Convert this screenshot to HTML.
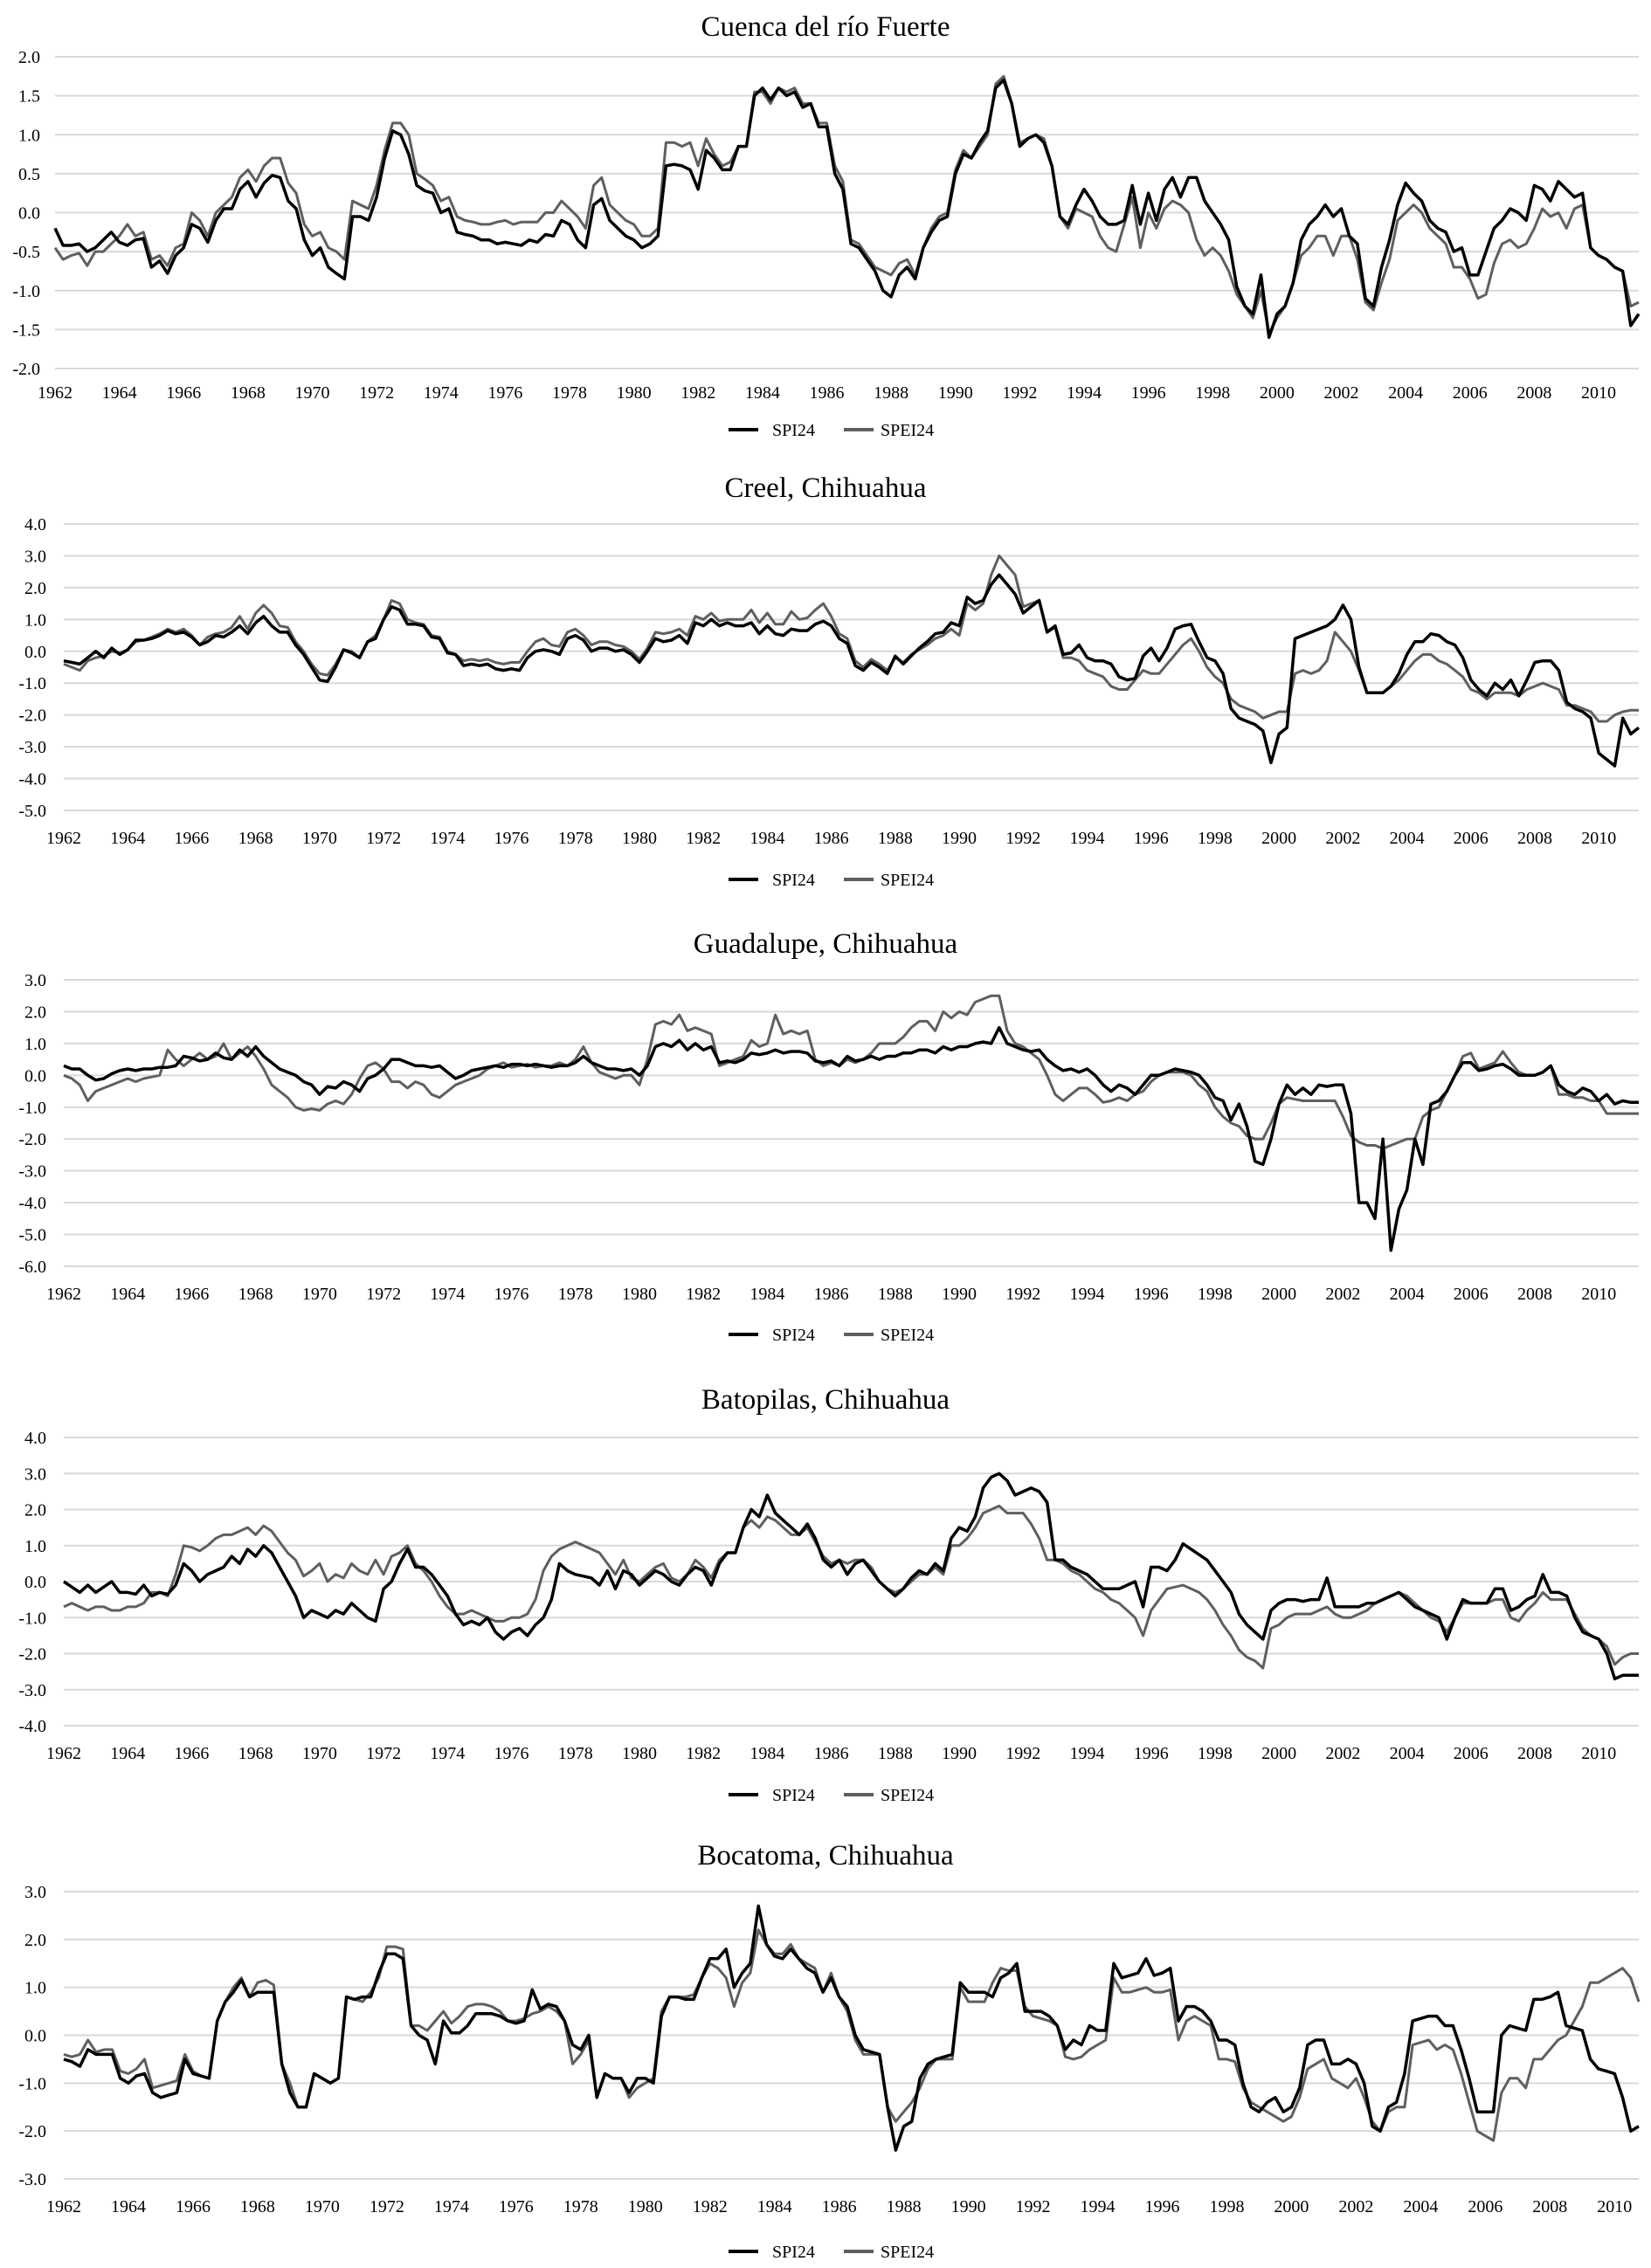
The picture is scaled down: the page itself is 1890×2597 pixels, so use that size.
<!DOCTYPE html>
<html><head><meta charset="utf-8"><title>SPI24 vs SPEI24</title>
<style>
html,body{margin:0;padding:0;background:#fff;}
svg{display:block;font-family:"Liberation Serif",serif;}
</style></head>
<body>
<svg id="chart" width="1890" height="2597" viewBox="0 0 1890 2597" xmlns="http://www.w3.org/2000/svg"></svg>
<script>
// ---- Data (quarterly, starting Jan 1962) ----
const years = [1962,1964,1966,1968,1970,1972,1974,1976,1978,1980,1982,1984,1986,1988,1990,1992,1994,1996,1998,2000,2002,2004,2006,2008,2010];
const seriesNames = ["SPI24","SPEI24"];
const titles = ["Cuenca del río Fuerte","Creel, Chihuahua","Guadalupe, Chihuahua","Batopilas, Chihuahua","Bocatoma, Chihuahua"];
const p1Ticks = [2.0,1.5,1.0,0.5,0.0,-0.5,-1.0,-1.5,-2.0];
const p2Ticks = [4,3,2,1,0,-1,-2,-3,-4,-5];
const p3Ticks = [3,2,1,0,-1,-2,-3,-4,-5,-6];
const p4Ticks = [4,3,2,1,0,-1,-2,-3,-4];
const p5Ticks = [3,2,1,0,-1,-2,-3];

const p1Spi = [-0.2,-0.42,-0.42,-0.4, -0.5,-0.45,-0.35,-0.25, -0.38,-0.42,-0.35,-0.33, -0.7,-0.62,-0.78,-0.55, -0.45,-0.15,-0.2,-0.38, -0.1,0.05,0.05,0.3, 0.4,0.2,0.38,0.48, 0.45,0.15,0.05,-0.35, -0.55,-0.45,-0.7,-0.78, -0.85,-0.05,-0.05,-0.1, 0.2,0.7,1.05,1.0, 0.75,0.35,0.28,0.25, 0.0,0.05,-0.25,-0.28, -0.3,-0.35,-0.35,-0.4, -0.38,-0.4,-0.42,-0.35, -0.38,-0.28,-0.3,-0.1, -0.15,-0.35,-0.45,0.1, 0.18,-0.1,-0.2,-0.3, -0.35,-0.45,-0.4,-0.3, 0.6,0.62,0.6,0.55, 0.3,0.8,0.7,0.55, 0.55,0.85,0.85,1.5, 1.6,1.45,1.6,1.5, 1.55,1.35,1.4,1.1, 1.1,0.5,0.3,-0.4, -0.45,-0.6,-0.75,-1.0, -1.08,-0.8,-0.7,-0.85, -0.45,-0.25,-0.1,-0.05, 0.5,0.75,0.7,0.9, 1.05,1.6,1.7,1.4, 0.85,0.95,1.0,0.9, 0.6,-0.05,-0.15,0.1, 0.3,0.15,-0.05,-0.15, -0.15,-0.1,0.35,-0.15, 0.25,-0.1,0.3,0.45, 0.2,0.45,0.45,0.15, 0.0,-0.15,-0.35,-0.95, -1.2,-1.3,-0.8,-1.6, -1.3,-1.2,-0.9,-0.35, -0.15,-0.05,0.1,-0.05, 0.05,-0.3,-0.4,-1.1, -1.2,-0.7,-0.35,0.1, 0.38,0.25,0.15,-0.1, -0.2,-0.25,-0.5,-0.45, -0.8,-0.8,-0.5,-0.2, -0.1,0.05,0.0,-0.1, 0.35,0.3,0.15,0.4, 0.3,0.2,0.25,-0.45, -0.55,-0.6,-0.7,-0.75, -1.45,-1.3];
const p1Spei = [-0.45,-0.6,-0.55,-0.52, -0.68,-0.5,-0.5,-0.4, -0.3,-0.15,-0.3,-0.25, -0.6,-0.55,-0.68,-0.45, -0.4,0.0,-0.1,-0.3, 0.0,0.1,0.2,0.45, 0.55,0.4,0.6,0.7, 0.7,0.38,0.25,-0.15, -0.3,-0.25,-0.45,-0.5, -0.6,0.15,0.1,0.05, 0.35,0.8,1.15,1.15, 1.0,0.5,0.43,0.35, 0.15,0.2,-0.05,-0.1, -0.12,-0.15,-0.15,-0.12, -0.1,-0.15,-0.12,-0.12, -0.12,0.0,0.0,0.15, 0.05,-0.05,-0.2,0.35, 0.45,0.1,0.0,-0.1, -0.15,-0.3,-0.3,-0.2, 0.9,0.9,0.85,0.9, 0.6,0.95,0.75,0.6, 0.65,0.85,0.85,1.55, 1.55,1.4,1.6,1.55, 1.6,1.4,1.4,1.15, 1.15,0.6,0.4,-0.35, -0.4,-0.55,-0.7,-0.75, -0.8,-0.65,-0.6,-0.8, -0.45,-0.2,-0.05,0.0, 0.55,0.8,0.7,0.85, 1.0,1.65,1.75,1.4, 0.9,0.95,1.0,0.95, 0.6,-0.05,-0.2,0.05, 0.0,-0.05,-0.3,-0.45, -0.5,-0.15,0.2,-0.45, 0.0,-0.2,0.05,0.15, 0.1,0.0,-0.35,-0.55, -0.45,-0.55,-0.75,-1.05, -1.2,-1.35,-1.0,-1.55, -1.35,-1.2,-0.9,-0.55, -0.45,-0.3,-0.3,-0.55, -0.3,-0.3,-0.6,-1.15, -1.25,-0.9,-0.6,-0.1, 0.0,0.1,0.0,-0.2, -0.3,-0.4,-0.7,-0.7, -0.85,-1.1,-1.05,-0.65, -0.4,-0.35,-0.45,-0.4, -0.2,0.05,-0.05,0.0, -0.2,0.05,0.1,-0.45, -0.55,-0.6,-0.7,-0.75, -1.2,-1.15];

const p2Spi = [-0.3,-0.35,-0.4,-0.2, 0.0,-0.2,0.1,-0.1, 0.05,0.35,0.35,0.4, 0.5,0.65,0.55,0.6, 0.45,0.2,0.3,0.5, 0.45,0.6,0.8,0.55, 0.9,1.1,0.8,0.6, 0.6,0.2,-0.1,-0.5, -0.9,-0.95,-0.5,0.05, -0.05,-0.2,0.3,0.4, 1.0,1.4,1.3,0.85, 0.85,0.8,0.45,0.4, -0.05,-0.1,-0.45,-0.4, -0.45,-0.4,-0.55,-0.6, -0.55,-0.6,-0.2,0.0, 0.05,0.0,-0.1,0.4, 0.5,0.35,0.0,0.1, 0.1,0.0,0.05,-0.1, -0.35,0.0,0.4,0.3, 0.35,0.5,0.25,0.9, 0.8,1.0,0.8,0.9, 0.8,0.8,0.9,0.55, 0.8,0.55,0.5,0.7, 0.65,0.65,0.85,0.95, 0.8,0.4,0.25,-0.45, -0.6,-0.35,-0.5,-0.7, -0.15,-0.4,-0.15,0.1, 0.3,0.55,0.6,0.9, 0.8,1.7,1.5,1.6, 2.1,2.4,2.1,1.8, 1.2,1.4,1.6,0.6, 0.8,-0.1,-0.05,0.2, -0.2,-0.3,-0.3,-0.4, -0.8,-0.9,-0.85,-0.15, 0.1,-0.3,0.1,0.7, 0.8,0.85,0.3,-0.2, -0.3,-0.7,-1.8,-2.1, -2.2,-2.3,-2.5,-3.5, -2.6,-2.4,0.4,0.5, 0.6,0.7,0.8,1.0, 1.45,1.0,-0.5,-1.3, -1.3,-1.3,-1.1,-0.7, -0.1,0.3,0.3,0.55, 0.5,0.3,0.2,-0.2, -0.9,-1.2,-1.4,-1.0, -1.2,-0.9,-1.4,-0.9, -0.35,-0.3,-0.3,-0.6, -1.6,-1.8,-1.9,-2.1, -3.2,-3.4,-3.6,-2.1, -2.6,-2.4];
const p2Spei = [-0.4,-0.5,-0.6,-0.3, -0.2,-0.15,0.0,-0.05, 0.05,0.3,0.35,0.45, 0.55,0.7,0.6,0.7, 0.5,0.2,0.45,0.55, 0.6,0.75,1.1,0.7, 1.2,1.45,1.2,0.8, 0.75,0.3,0.0,-0.4, -0.7,-0.75,-0.4,0.05, 0.0,-0.2,0.3,0.5, 1.0,1.6,1.5,1.0, 0.9,0.85,0.5,0.45, 0.0,-0.1,-0.3,-0.25, -0.3,-0.25,-0.35,-0.4, -0.35,-0.35,0.0,0.3, 0.4,0.2,0.15,0.6, 0.7,0.5,0.2,0.3, 0.3,0.2,0.15,0.0, -0.25,0.1,0.6,0.55, 0.6,0.7,0.5,1.1, 1.0,1.2,0.95,1.0, 1.0,1.0,1.3,0.9, 1.2,0.85,0.85,1.25, 1.0,1.05,1.3,1.5, 1.1,0.55,0.4,-0.3, -0.5,-0.25,-0.4,-0.6, -0.2,-0.35,-0.1,0.05, 0.2,0.4,0.5,0.7, 0.5,1.5,1.3,1.5, 2.4,3.0,2.7,2.4, 1.4,1.5,1.6,0.6, 0.75,-0.2,-0.2,-0.3, -0.6,-0.7,-0.8,-1.1, -1.2,-1.2,-0.9,-0.6, -0.7,-0.7,-0.4,-0.1, 0.2,0.4,0.0,-0.5, -0.8,-1.0,-1.5,-1.7, -1.8,-1.9,-2.1,-2.0, -1.9,-1.9,-0.7,-0.6, -0.7,-0.6,-0.3,0.6, 0.3,0.0,-0.6,-1.3, -1.3,-1.3,-1.1,-0.9, -0.6,-0.3,-0.1,-0.1, -0.3,-0.4,-0.6,-0.8, -1.2,-1.3,-1.5,-1.3, -1.3,-1.3,-1.4,-1.2, -1.1,-1.0,-1.1,-1.2, -1.7,-1.7,-1.8,-1.9, -2.2,-2.2,-2.0,-1.9, -1.85,-1.85];

const p3Spi = [0.3,0.2,0.2,0.0, -0.15,-0.1,0.05,0.15, 0.2,0.15,0.2,0.2, 0.25,0.25,0.3,0.6, 0.55,0.45,0.5,0.7, 0.55,0.5,0.8,0.6, 0.9,0.6,0.4,0.2, 0.1,0.0,-0.2,-0.3, -0.6,-0.35,-0.4,-0.2, -0.3,-0.5,-0.1,0.0, 0.2,0.5,0.5,0.4, 0.3,0.3,0.25,0.3, 0.1,-0.1,0.0,0.15, 0.2,0.25,0.3,0.25, 0.35,0.35,0.3,0.35, 0.3,0.25,0.3,0.3, 0.4,0.6,0.4,0.3, 0.2,0.2,0.15,0.2, 0.0,0.3,0.9,1.0, 0.9,1.1,0.8,1.0, 0.8,0.9,0.4,0.45, 0.4,0.5,0.7,0.65, 0.7,0.8,0.7,0.75, 0.75,0.7,0.45,0.4, 0.45,0.3,0.6,0.45, 0.5,0.6,0.5,0.6, 0.6,0.7,0.7,0.8, 0.8,0.7,0.9,0.8, 0.9,0.9,1.0,1.05, 1.0,1.5,1.0,0.9, 0.8,0.75,0.8,0.5, 0.3,0.15,0.2,0.1, 0.2,0.0,-0.3,-0.5, -0.3,-0.4,-0.6,-0.3, 0.0,0.0,0.1,0.2, 0.15,0.1,0.0,-0.3, -0.7,-0.8,-1.4,-0.9, -1.6,-2.7,-2.8,-2.0, -0.9,-0.3,-0.6,-0.4, -0.6,-0.3,-0.35,-0.3, -0.3,-1.2,-4.0,-4.0, -4.5,-2.0,-5.5,-4.2, -3.6,-2.0,-2.8,-0.9, -0.8,-0.5,0.0,0.4, 0.4,0.15,0.2,0.3, 0.35,0.2,0.0,0.0, 0.0,0.1,0.3,-0.3, -0.5,-0.6,-0.4,-0.5, -0.8,-0.6,-0.9,-0.8, -0.85,-0.85];
const p3Spei = [0.0,-0.1,-0.3,-0.8, -0.5,-0.4,-0.3,-0.2, -0.1,-0.2,-0.1,-0.05, 0.0,0.8,0.5,0.3, 0.5,0.7,0.5,0.6, 1.0,0.5,0.7,0.9, 0.6,0.2,-0.3,-0.5, -0.7,-1.0,-1.1,-1.05, -1.1,-0.9,-0.8,-0.9, -0.6,-0.1,0.3,0.4, 0.2,-0.2,-0.2,-0.4, -0.2,-0.3,-0.6,-0.7, -0.5,-0.3,-0.2,-0.1, 0.0,0.2,0.3,0.4, 0.25,0.3,0.35,0.25, 0.3,0.3,0.4,0.3, 0.5,0.9,0.4,0.1, 0.0,-0.1,0.0,0.0, -0.3,0.5,1.6,1.7, 1.6,1.9,1.4,1.5, 1.4,1.3,0.3,0.4, 0.5,0.6,1.1,0.9, 1.0,1.9,1.3,1.4, 1.3,1.4,0.5,0.3, 0.4,0.3,0.5,0.4, 0.5,0.7,1.0,1.0, 1.0,1.2,1.5,1.7, 1.7,1.4,2.0,1.8, 2.0,1.9,2.3,2.4, 2.5,2.5,1.4,1.0, 0.9,0.7,0.5,0.0, -0.6,-0.8,-0.6,-0.4, -0.4,-0.6,-0.85,-0.8, -0.7,-0.8,-0.6,-0.5, -0.2,0.0,0.1,0.1, 0.1,0.0,-0.3,-0.5, -1.0,-1.3,-1.5,-1.6, -1.9,-2.0,-2.0,-1.5, -0.9,-0.7,-0.75,-0.8, -0.8,-0.8,-0.8,-0.8, -1.3,-1.9,-2.1,-2.2, -2.2,-2.3,-2.2,-2.1, -2.0,-2.0,-1.3,-1.1, -1.0,-0.5,0.0,0.6, 0.7,0.2,0.3,0.4, 0.75,0.4,0.1,0.0, 0.0,0.1,0.3,-0.6, -0.6,-0.7,-0.7,-0.8, -0.8,-1.2,-1.2,-1.2, -1.2,-1.2];

const p4Spi = [0.0,-0.15,-0.3,-0.1, -0.3,-0.15,0.0,-0.3, -0.3,-0.35,-0.1,-0.4, -0.3,-0.35,-0.1,0.5, 0.3,0.0,0.2,0.3, 0.4,0.7,0.5,0.9, 0.7,1.0,0.8,0.4, 0.0,-0.4,-1.0,-0.8, -0.9,-1.0,-0.8,-0.9, -0.6,-0.8,-1.0,-1.1, -0.2,0.0,0.5,0.9, 0.4,0.4,0.2,-0.1, -0.4,-0.9,-1.2,-1.1, -1.2,-1.0,-1.4,-1.6, -1.4,-1.3,-1.5,-1.2, -1.0,-0.5,0.5,0.3, 0.2,0.15,0.1,-0.1, 0.3,-0.2,0.3,0.2, -0.1,0.1,0.3,0.2, 0.0,-0.1,0.2,0.4, 0.3,-0.1,0.5,0.8, 0.8,1.5,2.0,1.8, 2.4,1.9,1.7,1.5, 1.3,1.6,1.2,0.6, 0.4,0.6,0.2,0.5, 0.6,0.3,0.0,-0.2, -0.4,-0.2,0.1,0.3, 0.2,0.5,0.3,1.2, 1.5,1.4,1.8,2.6, 2.9,3.0,2.8,2.4, 2.5,2.6,2.5,2.2, 0.6,0.6,0.4,0.3, 0.2,0.0,-0.2,-0.2, -0.2,-0.1,0.0,-0.7, 0.4,0.4,0.3,0.6, 1.05,0.9,0.75,0.6, 0.3,0.0,-0.3,-0.9, -1.2,-1.4,-1.6,-0.8, -0.6,-0.5,-0.5,-0.55, -0.5,-0.5,0.1,-0.7, -0.7,-0.7,-0.7,-0.6, -0.6,-0.5,-0.4,-0.3, -0.5,-0.7,-0.8,-0.9, -1.0,-1.6,-1.0,-0.5, -0.6,-0.6,-0.6,-0.2, -0.2,-0.8,-0.7,-0.5, -0.4,0.2,-0.3,-0.3, -0.4,-1.0,-1.4,-1.5, -1.6,-2.0,-2.7,-2.6, -2.6,-2.6];
const p4Spei = [-0.7,-0.6,-0.7,-0.8, -0.7,-0.7,-0.8,-0.8, -0.7,-0.7,-0.6,-0.3, -0.3,-0.4,0.2,1.0, 0.95,0.85,1.0,1.2, 1.3,1.3,1.4,1.5, 1.3,1.55,1.4,1.1, 0.8,0.6,0.15,0.3, 0.5,0.0,0.2,0.1, 0.5,0.3,0.2,0.6, 0.2,0.7,0.8,1.0, 0.5,0.3,0.0,-0.4, -0.7,-0.9,-0.9,-0.8, -0.9,-1.0,-1.1,-1.1, -1.0,-1.0,-0.9,-0.5, 0.3,0.7,0.9,1.0, 1.1,1.0,0.9,0.8, 0.5,0.2,0.6,0.1, 0.0,0.2,0.4,0.5, 0.1,0.0,0.2,0.6, 0.4,0.1,0.6,0.8, 0.8,1.5,1.7,1.5, 1.8,1.7,1.5,1.3, 1.3,1.5,1.1,0.7, 0.5,0.6,0.5,0.6, 0.6,0.4,0.0,-0.2, -0.3,-0.2,0.0,0.2, 0.2,0.4,0.2,1.0, 1.0,1.2,1.5,1.9, 2.0,2.1,1.9,1.9, 1.9,1.6,1.2,0.6, 0.6,0.5,0.3,0.2, 0.0,-0.2,-0.3,-0.5, -0.6,-0.8,-1.0,-1.5, -0.8,-0.5,-0.2,-0.15, -0.1,-0.2,-0.3,-0.5, -0.8,-1.2,-1.5,-1.9, -2.1,-2.2,-2.4,-1.3, -1.2,-1.0,-0.9,-0.9, -0.9,-0.8,-0.7,-0.9, -1.0,-1.0,-0.9,-0.8, -0.6,-0.5,-0.4,-0.3, -0.4,-0.6,-0.8,-1.0, -1.1,-1.4,-1.0,-0.6, -0.6,-0.6,-0.6,-0.5, -0.5,-1.0,-1.1,-0.8, -0.6,-0.3,-0.5,-0.5, -0.5,-0.9,-1.3,-1.5, -1.6,-1.8,-2.3,-2.1, -2.0,-2.0];

const p5Spi = [-0.5,-0.55,-0.65,-0.3, -0.4,-0.4,-0.4,-0.9, -1.0,-0.85,-0.8,-1.2, -1.3,-1.25,-1.2,-0.5, -0.8,-0.85,-0.9,0.3, 0.7,0.9,1.15,0.8, 0.9,0.9,0.9,-0.6, -1.2,-1.5,-1.5,-0.8, -0.9,-1.0,-0.9,0.8, 0.75,0.8,0.8,1.3, 1.7,1.7,1.6,0.2, 0.0,-0.1,-0.6,0.3, 0.05,0.05,0.2,0.45, 0.45,0.45,0.4,0.3, 0.25,0.3,0.95,0.55, 0.65,0.6,0.3,-0.2, -0.3,0.0,-1.3,-0.8, -0.9,-0.9,-1.2,-0.9, -0.9,-1.0,0.4,0.8, 0.8,0.75,0.75,1.2, 1.6,1.6,1.8,1.0, 1.3,1.5,2.7,1.9, 1.65,1.6,1.8,1.6, 1.4,1.3,0.9,1.2, 0.8,0.6,0.0,-0.3, -0.35,-0.4,-1.5,-2.4, -1.9,-1.8,-0.9,-0.6, -0.5,-0.45,-0.4,1.1, 0.9,0.9,0.9,0.8, 1.2,1.3,1.5,0.5, 0.5,0.5,0.4,0.2, -0.3,-0.1,-0.2,0.2, 0.1,0.1,1.5,1.2, 1.25,1.3,1.6,1.25, 1.3,1.4,0.3,0.6, 0.6,0.5,0.3,-0.1, -0.1,-0.2,-1.0,-1.5, -1.6,-1.4,-1.3,-1.6, -1.5,-1.1,-0.2,-0.1, -0.1,-0.6,-0.6,-0.5, -0.6,-1.0,-1.9,-2.0, -1.5,-1.4,-0.8,0.3, 0.35,0.4,0.4,0.2, 0.2,-0.3,-0.9,-1.6, -1.6,-1.6,0.0,0.2, 0.15,0.1,0.75,0.75, 0.8,0.9,0.2,0.15, 0.1,-0.5,-0.7,-0.75, -0.8,-1.3,-2.0,-1.9];
const p5Spei = [-0.4,-0.45,-0.4,-0.1, -0.35,-0.3,-0.3,-0.75, -0.8,-0.7,-0.5,-1.1, -1.05,-1.0,-0.95,-0.4, -0.75,-0.85,-0.9,0.3, 0.7,1.0,1.2,0.8, 1.1,1.15,1.05,-0.6, -1.0,-1.5,-1.5,-0.8, -0.9,-1.0,-0.9,0.8, 0.75,0.7,0.9,1.2, 1.85,1.85,1.8,0.2, 0.2,0.1,0.3,0.5, 0.25,0.4,0.6,0.65, 0.65,0.6,0.5,0.3, 0.3,0.35,0.45,0.5, 0.6,0.5,0.3,-0.6, -0.4,-0.1,-1.3,-0.8, -0.9,-0.9,-1.3,-1.1, -1.0,-0.9,0.5,0.8, 0.8,0.8,0.85,1.2, 1.5,1.4,1.2,0.6, 1.1,1.3,2.2,1.9, 1.7,1.7,1.9,1.6, 1.5,1.4,0.9,1.3, 0.8,0.5,-0.1,-0.4, -0.4,-0.4,-1.5,-1.8, -1.6,-1.4,-1.1,-0.7, -0.5,-0.5,-0.5,1.0, 0.7,0.7,0.7,1.1, 1.4,1.35,1.35,0.6, 0.4,0.35,0.3,0.2, -0.45,-0.5,-0.45,-0.3, -0.2,-0.1,1.2,0.9, 0.9,0.95,1.0,0.9, 0.9,0.95,-0.1,0.3, 0.4,0.3,0.2,-0.5, -0.5,-0.55,-1.1,-1.4, -1.5,-1.6,-1.7,-1.8, -1.7,-1.3,-0.7,-0.6, -0.5,-0.9,-1.0,-1.1, -0.9,-1.3,-1.8,-2.0, -1.6,-1.5,-1.5,-0.2, -0.15,-0.1,-0.3,-0.2, -0.3,-0.8,-1.4,-2.0, -2.1,-2.2,-1.2,-0.9, -0.9,-1.1,-0.5,-0.5, -0.3,-0.1,0.0,0.3, 0.6,1.1,1.1,1.2, 1.3,1.4,1.2,0.7];

// ---- Drawing ----
const NS = "http://www.w3.org/2000/svg";
const svg = document.getElementById("chart");
function mk(tag, attrs, parent){
  const e = document.createElementNS(NS, tag);
  for (const k in attrs) e.setAttribute(k, attrs[k]);
  (parent || svg).appendChild(e);
  return e;
}
const RIGHT = 1876;
const panels = [
  {title: titles[0], spi: p1Spi, spei: p1Spei, ticks: p1Ticks, left: 63, yTop: 65, yBot: 422, titleY: 30, yearY: 449, legendY: 492, labelX: 46},
  {title: titles[1], spi: p2Spi, spei: p2Spei, ticks: p2Ticks, left: 73, yTop: 600, yBot: 928, titleY: 558, yearY: 959, legendY: 1007, labelX: 53},
  {title: titles[2], spi: p3Spi, spei: p3Spei, ticks: p3Ticks, left: 73, yTop: 1122, yBot: 1450, titleY: 1080, yearY: 1481, legendY: 1528, labelX: 53},
  {title: titles[3], spi: p4Spi, spei: p4Spei, ticks: p4Ticks, left: 73, yTop: 1646, yBot: 1976, titleY: 1602, yearY: 2007, legendY: 2055, labelX: 53},
  {title: titles[4], spi: p5Spi, spei: p5Spei, ticks: p5Ticks, left: 73, yTop: 2166, yBot: 2495, titleY: 2124, yearY: 2526, legendY: 2578, labelX: 53}
];

panels.forEach(function(p, pi){
  const g = mk("g", {});
  
  
  const vMax = p.ticks[0], vMin = p.ticks[p.ticks.length - 1];
  const yScale = v => p.yTop + (vMax - v) / (vMax - vMin) * (p.yBot - p.yTop);
  const n = p.spi.length;
  const xIdx = i => p.left + i / (n - 1) * (RIGHT - p.left);
  const xYear = yr => xIdx((yr - 1962) * 4);

  const t = mk("text", {x: 945, y: p.titleY + 11, "text-anchor": "middle", "font-size": 33, fill: "#000"}, g);
  t.textContent = p.title;
  
  

  p.ticks.forEach(function(v){
    const y = yScale(v);
    const gl = mk("line", {x1: p.left, x2: RIGHT, y1: y, y2: y, stroke: "#d9d9d9", "stroke-width": 2}, g);
    
    
    const lb = mk("text", {x: p.labelX, y: y + 7, "text-anchor": "end", "font-size": 20, fill: "#000"}, g);
    lb.textContent = v.toFixed(1);
    
    
  });

  years.forEach(function(yr){
    const lb = mk("text", {x: xYear(yr), y: p.yearY + 7, "text-anchor": "middle", "font-size": 20, fill: "#000"}, g);
    lb.textContent = String(yr);
    
    
  });

  function path(vals, color, w, name){
    let d = "";
    vals.forEach(function(v, i){ d += (i ? "L" : "M") + xIdx(i).toFixed(1) + " " + yScale(v).toFixed(1); });
    const pe = mk("path", {d: d, fill: "none", stroke: color, "stroke-width": w, "stroke-linejoin": "round"}, g);
    
    
  }
  path(p.spei, "#5f5f5f", 3, "spei24-line");
  path(p.spi, "#000000", 3.5, "spi24-line");

  const lg = mk("g", {}, g);
  
  
  const ly = p.legendY;
  const l1 = mk("line", {x1: 834, x2: 868, y1: ly, y2: ly, stroke: "#000", "stroke-width": 4}, lg);
  
  
  const t1 = mk("text", {x: 884, y: ly + 7, "font-size": 20, fill: "#000"}, lg);
  t1.textContent = seriesNames[0];
  
  
  const l2 = mk("line", {x1: 966, x2: 1000, y1: ly, y2: ly, stroke: "#5f5f5f", "stroke-width": 4}, lg);
  
  
  const t2 = mk("text", {x: 1008, y: ly + 7, "font-size": 20, fill: "#000"}, lg);
  t2.textContent = seriesNames[1];
  
  
});
</script>
</body></html>
